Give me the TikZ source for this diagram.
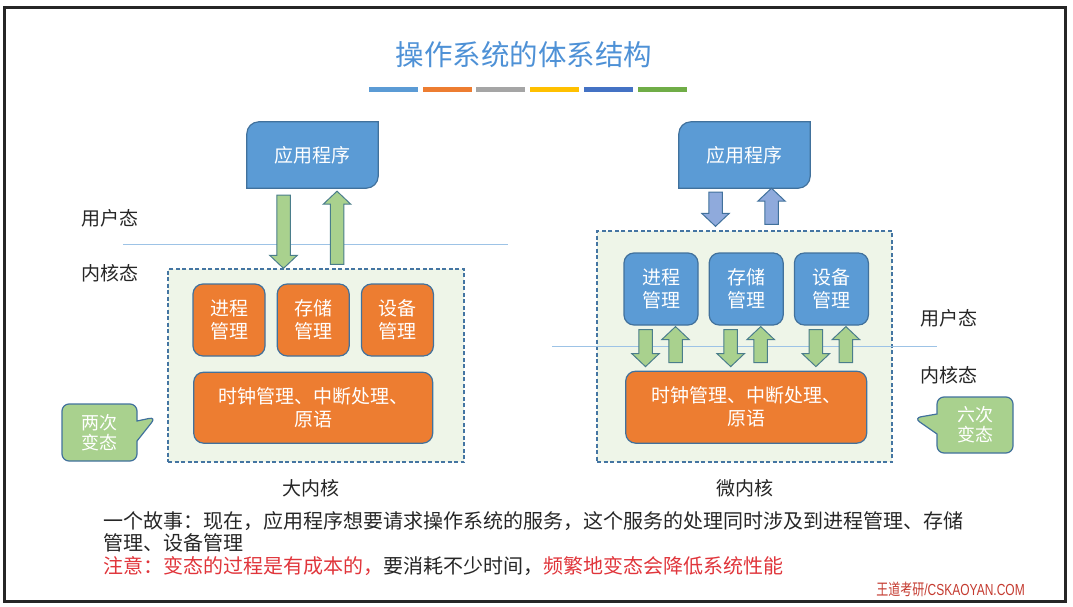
\documentclass[tikz,border=0pt]{standalone}
\usepackage{fontspec}
\setmainfont{Noto Sans CJK SC}
\newfontfamily\sitefont[FakeStretch=0.75]{Liberation Sans}
\newfontfamily\sitecjk[FakeStretch=0.75]{Noto Sans CJK SC}
\usetikzlibrary{positioning, calc, shapes.callouts}

\definecolor{accblue}{HTML}{5B9BD5}
\definecolor{accorange}{HTML}{ED7D31}
\definecolor{accgray}{HTML}{A5A5A5}
\definecolor{accyellow}{HTML}{FFC000}
\definecolor{accdblue}{HTML}{4472C4}
\definecolor{accgreen}{HTML}{70AD47}
\definecolor{edgeblue}{HTML}{41719C}
\definecolor{lightgreen}{HTML}{A9D18E}
\definecolor{lightpurple}{HTML}{8FAADC}
\definecolor{kernfill}{HTML}{EEF5E8}
\definecolor{titleblue}{HTML}{4E91D6}
\definecolor{notered}{HTML}{E0353B}
\definecolor{labelgray}{HTML}{262626}
\definecolor{sitered}{HTML}{C43B30}
\definecolor{sepline}{HTML}{9DC3E6}

% block arrow from tail point to tip point (vertical)
\newcommand\blkarr[3]{%
  \draw[#1] let \p1=#2, \p2=#3, \n1={(\y2>\y1 ? -13 : 13)} in
    (\x1-6.75pt,\y1) -- (\x1-6.75pt,\y2+\n1) -- (\x1-13.75pt,\y2+\n1) -- (\x1,\y2)
    -- (\x1+13.75pt,\y2+\n1) -- (\x1+6.75pt,\y2+\n1) -- (\x1+6.75pt,\y1) -- cycle;}
% application box: top left and bottom right corners rounded
\newcommand\appshape[1]{%
  \draw[appbox] (#1.south west) -- ([yshift=-12pt]#1.north west)
    arc[start angle=180, end angle=90, radius=12pt] -- (#1.north east)
    -- ([yshift=12pt]#1.south east) arc[start angle=0, end angle=-90, radius=12pt] -- cycle;}

\begin{document}
\begin{tikzpicture}[x=1pt, y=-1pt,
    boxfont/.style={font=\fontsize{19}{23}\selectfont},
    kbox/.style={boxfont, draw=edgeblue, line width=1.2pt, rounded corners=10pt, text=white,
      align=center, inner sep=0pt, minimum width=72pt, minimum height=72pt},
    obox/.style={kbox, fill=accorange},
    bbox/.style={kbox, fill=accblue},
    kernel/.style={draw=edgeblue!90!accblue, line width=1.3pt, dash pattern=on 4pt off 2.5pt,
      fill=kernfill, inner sep=0pt},
    appbox/.style={fill=accblue, draw=edgeblue, line width=1.2pt},
    appsize/.style={inner sep=0pt, minimum width=131pt, minimum height=66pt},
    apptext/.style={boxfont, text=white},
    grnarr/.style={fill=lightgreen, draw=edgeblue!80!accgreen, line width=1pt},
    purarr/.style={fill=lightpurple, draw=edgeblue, line width=1pt},
    modelabel/.style={font=\fontsize{19}{23}\selectfont, text=labelgray},
    callbox/.style={rectangle callout, fill=lightgreen, draw=edgeblue, line width=1.2pt,
      rounded corners=7pt, callout pointer width=20pt, text=white, align=center,
      inner sep=0pt, minimum width=75pt, minimum height=57pt,
      font=\fontsize{18}{20}\selectfont},
    bodytext/.style={font=\fontsize{20}{22.5}\selectfont, text=labelgray, align=left, inner sep=0pt}]
    \useasboundingbox (0,0) rectangle (1073,607);
    \draw[line width=3pt, black!85] (4.5,7.5) rectangle (1065.5,601);

    % title and colour bars
    \node[font=\fontsize{28.5}{30}\selectfont, text=titleblue] (title) at (524,55) {操作系统的体系结构};
    \foreach \c [count=\i from 0] in {accblue, accorange, accgray, accyellow, accdblue, accgreen}
        \fill[\c] ({369+\i*53.7},87) rectangle ++(49,5.5);

    % big kernel
    \node[kernel, minimum width=296pt, minimum height=193pt] (big1) at (316,365.5) {};
    \draw[sepline, line width=1pt] (123,244) -- (508,244);
    \node[appsize] (app1) at (312.5,155) {};
    \appshape{app1}
    \node[apptext] (app1l) at (app1) {应用程序};
    \node[obox] (pm1) at (229,320) {进程\\管理};
    \node[obox] (sm1) [right=11pt of pm1] {存储\\管理};
    \node[obox] (dm1) [right=11pt of sm1] {设备\\管理};
    \node[obox, minimum width=239pt, minimum height=71pt] (ck1) [below=15pt of sm1] {时钟管理、中断处理、\\原语};
    \blkarr{grnarr}{($(app1.south)+(-29,7)$)}{($(app1.south |- big1.north)+(-29,0)$)}
    \blkarr{grnarr}{($(app1.south |- big1.north)+(24.5,-4)$)}{($(app1.south)+(24.5,3)$)}
    \node[modelabel] (us1) at (110,218) {用户态};
    \node[modelabel] (ks1) at (110,273) {内核态};
    \node[modelabel] (lab1) at (311,488) {大内核};
    \node[callbox, callout absolute pointer={(156,417)}] (tw1) at (99.5,432.5) {两次\\变态};

    % micro kernel
    \node[kernel, minimum width=295pt, minimum height=231pt] (big2) at (744.5,346.5) {};
    \draw[sepline, line width=1pt] (552,346) -- (937,346);
    \node[appsize] (app2) at (744.5,155) {};
    \appshape{app2}
    \node[apptext] (app2l) at (app2) {应用程序};
    \node[bbox, minimum width=74pt] (pm2) at (661,289) {进程\\管理};
    \node[bbox, minimum width=74pt] (sm2) [right=10pt of pm2] {存储\\管理};
    \node[bbox, minimum width=74pt] (dm2) [right=10pt of sm2] {设备\\管理};
    \node[obox, minimum width=241pt, minimum height=72pt] (ck2) [below=45pt of sm2] {时钟管理、中断处理、\\原语};
    \blkarr{purarr}{($(app2.south)+(-29,4)$)}{($(app2.south |- big2.north)+(-29,-4)$)}
    \blkarr{purarr}{($(app2.south |- big2.north)+(27,-6)$)}{($(app2.south)+(27,0)$)}
    \foreach \b in {pm2, sm2, dm2} {
        \blkarr{grnarr}{($(\b.south)+(-15.5,4)$)}{($(\b.south |- ck2.north)+(-15.5,-4)$)}
        \blkarr{grnarr}{($(\b.south |- ck2.north)+(14.5,-8)$)}{($(\b.south)+(14.5,1)$)}
    }
    \node[modelabel] (us2) at (948.5,318) {用户态};
    \node[modelabel] (ks2) at (948.5,375) {内核态};
    \node[modelabel] (lab2) at (745,488) {微内核};
    \node[callbox, minimum width=76pt, minimum height=56pt, callout absolute pointer={(914,418)}] (sx2) at (975,425) {六次\\变态};

    % notes below
    \node[bodytext, anchor=west] (story) at (103,532)
        {一个故事：现在，应用程序想要请求操作系统的服务，这个服务的处理同时涉及到进程管理、存储\\管理、设备管理};
    \node[bodytext, anchor=west] (note) at (103,566)
        {{\color{notered}注意：变态的过程是有成本的，}要消耗不少时间，{\color{notered}频繁地变态会降低系统性能}};
    \node[text=sitered, inner sep=0pt, anchor=east] (site) at (1025,589)
        {\fontsize{16}{18}\sitecjk 王道考研\sitefont /CSKAOYAN.COM};
\end{tikzpicture}
\end{document}
